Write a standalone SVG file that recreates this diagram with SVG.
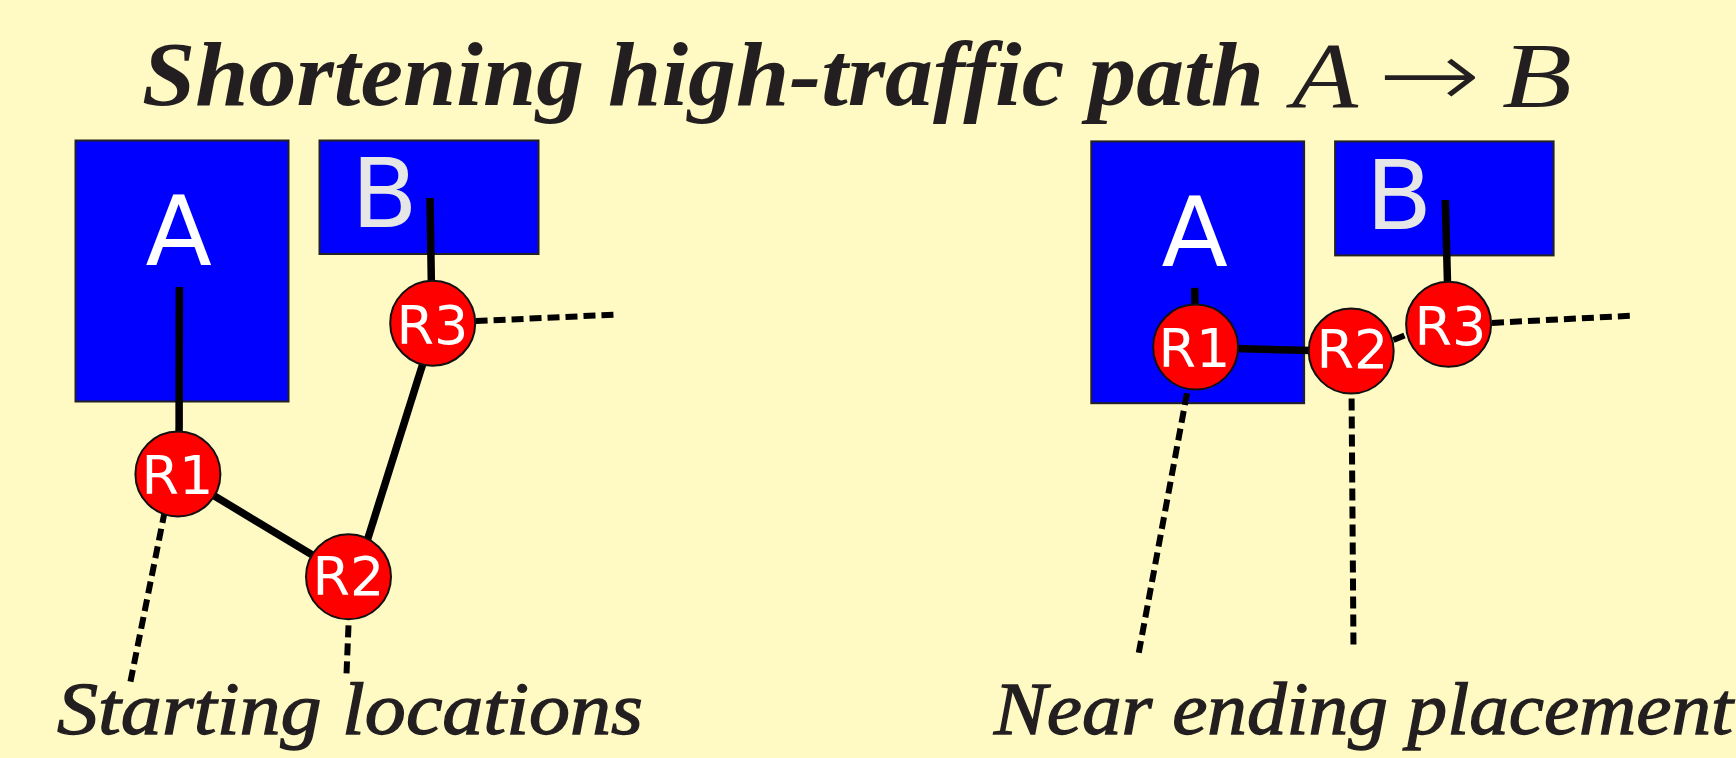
<svg xmlns="http://www.w3.org/2000/svg" width="1736" height="758" viewBox="0 0 1736 758">
  <style>
    .title { font-family: "Liberation Serif", "DejaVu Serif", serif; font-style: italic; font-weight: bold; fill: #231f20; }
    .math { font-family: "Liberation Serif", "DejaVu Serif", serif; font-style: italic; fill: #231f20; }
    .arrow { font-family: "DejaVu Sans", sans-serif; font-weight: 200; fill: #231f20; }
    .caption { font-family: "Liberation Serif", "DejaVu Serif", serif; font-style: italic; fill: #231f20; stroke: #231f20; stroke-width: 1.3; }
    .box { fill: #0000ff; stroke: #222222; stroke-width: 2; }
    .boxlabel { font-family: "DejaVu Sans", sans-serif; font-size: 97px; }
    .router { fill: #ff0000; stroke: #111111; stroke-width: 2; }
    .rlabel { font-family: "DejaVu Sans", sans-serif; font-size: 54px; fill: #ffffff; text-anchor: middle; }
    .link { stroke: #000000; stroke-width: 7.5; fill: none; }
    .dash { stroke: #000000; stroke-width: 6; fill: none; stroke-dasharray: 12 6; }
  </style>

  <rect x="0" y="0" width="1736" height="758" fill="#fff9c4"/>

  <!-- heading -->
  <g id="title">
    <text class="title" x="142" y="105" font-size="92" textLength="1122" lengthAdjust="spacingAndGlyphs">Shortening high-traffic path</text>
    <text class="math" x="1292" y="107" font-size="94" textLength="66" lengthAdjust="spacingAndGlyphs">A</text>
    <text class="arrow" transform="translate(1378,107) scale(1.31,1)" font-size="94">→</text>
    <text class="math" x="1502" y="107" font-size="94" textLength="70" lengthAdjust="spacingAndGlyphs">B</text>
  </g>

  <!-- left: starting locations -->
  <g id="left-A">
    <rect class="box" x="75.5" y="140.5" width="213" height="261"/>
    <text class="boxlabel" x="178.6" y="265" text-anchor="middle" fill="#ffffff">A</text>
  </g>
  <g id="left-B">
    <rect class="box" x="319.5" y="140.5" width="219" height="113.5"/>
    <text class="boxlabel" x="351.2" y="227" fill="#e6e6e6">B</text>
  </g>

  <g id="left-links">
    <line class="link" x1="179.4" y1="287" x2="179" y2="474"/>
    <line class="link" x1="430" y1="198" x2="432" y2="323"/>
    <line class="link" x1="178" y1="474" x2="348.5" y2="576.8"/>
    <line class="link" x1="355.8" y1="576.8" x2="435.6" y2="323.2"/>
    <line class="dash" x1="475.6" y1="321.1" x2="616.4" y2="314.6"/>
    <line class="dash" x1="164.8" y1="511.1" x2="130.4" y2="682"/>
    <line class="dash" x1="348.5" y1="625.4" x2="346.5" y2="674"/>
  </g>

  <g id="left-R1">
    <circle class="router" cx="177.9" cy="473.9" r="42.5"/>
    <text class="rlabel" x="177.5" y="494">R1</text>
  </g>
  <g id="left-R2">
    <circle class="router" cx="348.5" cy="576.8" r="42.5"/>
    <text class="rlabel" x="348.5" y="594.5">R2</text>
  </g>
  <g id="left-R3">
    <circle class="router" cx="432.7" cy="323.2" r="42.5"/>
    <text class="rlabel" x="432.5" y="343.8">R3</text>
  </g>

  <!-- right: near ending placement -->
  <g id="right-A">
    <rect class="box" x="1091.3" y="141.4" width="212.8" height="261.8"/>
    <text class="boxlabel" x="1194.7" y="266.4" text-anchor="middle" fill="#ffffff">A</text>
  </g>
  <g id="right-B">
    <rect class="box" x="1335.1" y="141.4" width="218.5" height="114"/>
    <text class="boxlabel" x="1365.8" y="228.9" fill="#e6e6e6">B</text>
  </g>

  <g id="right-links">
    <line class="link" x1="1194.7" y1="287.9" x2="1195.6" y2="347"/>
    <line class="link" x1="1445.3" y1="200" x2="1448.6" y2="324"/>
    <line class="link" x1="1195.6" y1="347.5" x2="1351.2" y2="351.6"/>
    <line class="dash" x1="1393.4" y1="340" x2="1406.5" y2="334.6"/>
    <line class="dash" x1="1492" y1="322.9" x2="1631.7" y2="315.7"/>
    <line class="dash" x1="1187" y1="393.2" x2="1138" y2="657"/>
    <line class="dash" x1="1351.6" y1="398.6" x2="1353.5" y2="649"/>
  </g>

  <g id="right-R1">
    <circle class="router" cx="1195.6" cy="347.1" r="42.5"/>
    <text class="rlabel" x="1194.5" y="366.5">R1</text>
  </g>
  <g id="right-R2">
    <circle class="router" cx="1351.2" cy="351.1" r="42.5"/>
    <text class="rlabel" x="1352.5" y="368">R2</text>
  </g>
  <g id="right-R3">
    <circle class="router" cx="1448.6" cy="324.3" r="42.5"/>
    <text class="rlabel" x="1450.5" y="344.5">R3</text>
  </g>

  <!-- captions -->
  <g id="captions">
    <text class="caption" x="57" y="734" font-size="74" textLength="586" lengthAdjust="spacingAndGlyphs">Starting locations</text>
    <text class="caption" x="994" y="734" font-size="74" textLength="739" lengthAdjust="spacingAndGlyphs">Near ending placement</text>
  </g>
</svg>
